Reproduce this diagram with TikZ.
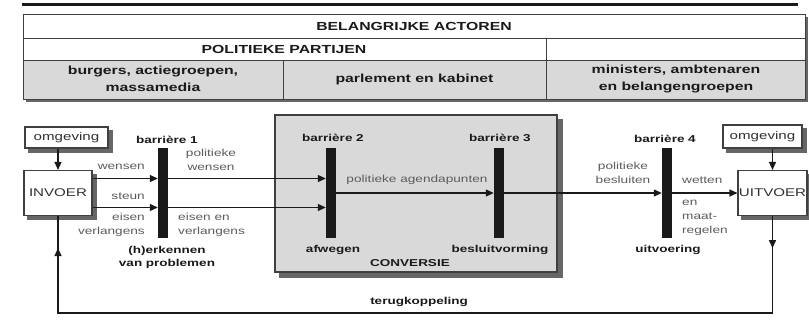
\documentclass[tikz,border=0pt]{standalone}
\usepackage{fontspec}
\setmainfont[FakeStretch=1.35]{Liberation Sans}
\usetikzlibrary{arrows.meta,backgrounds,decorations.markings}
\definecolor{lab}{HTML}{5C5C5C}
\definecolor{ink}{HTML}{1A1A1A}
\definecolor{fillg}{HTML}{D9D9D9}
\definecolor{edge}{HTML}{404040}
\definecolor{shd}{HTML}{666666}
\begin{document}
\begin{tikzpicture}[x=1pt,y=-1pt,
  tab/.style={font=\fontsize{11.7}{17}\selectfont\bfseries, text=ink, align=center, inner sep=0pt},
  boxnode/.style={draw=edge, line width=1.1pt, fill=white, font=\fontsize{11.2}{13}\selectfont, text=ink!90, inner sep=0pt},
  bar/.style={fill=ink, draw=none, minimum width=10pt, minimum height=89pt, inner sep=0pt},
  blab/.style={font=\fontsize{10}{13}\selectfont\bfseries, text=ink, align=center, inner sep=0pt},
  glab/.style={font=\fontsize{10.1}{14}\selectfont, text=lab, inner sep=0pt},
  tip/.style={-{Triangle[length=8pt,width=7pt]}},
  arr/.style={draw=ink, line width=1.3pt, tip},
]
\useasboundingbox (0,0) rectangle (809,334);

% conversie box
\node[draw=edge, line width=1.1pt, fill=fillg, minimum width=282pt, minimum height=157pt, inner sep=0pt] (conv) at (416,193.5) {};

% boxes
\node[boxnode, minimum width=83pt, minimum height=21pt] (omgL) at (66.5,137.5) {omgeving};
\node[boxnode, minimum width=68pt, minimum height=45pt] (inv) at (58,193) {INVOER};
\node[boxnode, minimum width=79pt, minimum height=23pt] (omgR) at (762.5,136.5) {omgeving};
\node[boxnode, minimum width=69pt, minimum height=45pt] (uit) at (772.5,193) {UITVOER};

\begin{scope}[on background layer]
\fill[white] (0,0) rectangle (809,334);
% top rule and table
\draw[ink, line width=3pt] (22,5) -- (798,5);
\fill[shd] (26,17) rectangle (808,102.5);
\filldraw[draw=edge, line width=0.9pt, fill=white] (23,14) rectangle (805,60);
\filldraw[draw=edge, line width=0.9pt, fill=fillg] (23,60) rectangle (805,99);
\draw[edge, line width=0.9pt] (23,38) -- (805,38);
\draw[edge, line width=0.9pt] (546,38) -- (546,99);
\draw[edge, line width=0.9pt] (283,60) -- (283,99);
% shadows
\fill[shd] ([xshift=5pt,yshift=-5pt]conv.south west) rectangle ([xshift=5pt,yshift=-5pt]conv.north east);
\foreach \b in {omgL,inv,omgR,uit}
  \fill[shd] ([xshift=4pt,yshift=-4pt]\b.south west) rectangle ([xshift=4pt,yshift=-4pt]\b.north east);
\end{scope}

\node[tab] (act) at (414,26) {BELANGRIJKE ACTOREN};
\node[tab] (pp) at (284,49) {POLITIEKE PARTIJEN};
\node[tab] (burg) at (153,79) {burgers, actiegroepen,\\massamedia};
\node[tab] (parl) at (414.5,79) {parlement en kabinet};
\node[tab] (mini) at (676,79) {ministers, ambtenaren\\en belangengroepen};

% barriers
\node[bar] (b1) at (163,193) {};
\node[bar] (b2) at (331,193) {};
\node[bar] (b3) at (499,193) {};
\node[bar] (b4) at (667,193) {};

\coordinate (iu) at ([yshift=14.5pt]inv.east);
\coordinate (id) at ([yshift=-14.5pt]inv.east);

% connectors
\draw[arr] (inv.north |- omgL.south) -- (inv.north);
\draw[arr] (uit.north |- omgR.south) -- (uit.north);
\draw[arr] (iu) -- (iu -| b1.west);
\draw[arr] (id) -- (id -| b1.west);
\draw[arr] (iu -| b1.east) -- (iu -| b2.west);
\draw[arr] (id -| b1.east) -- (id -| b2.west);
\draw[arr] (b2.east) -- (b3.west);
\draw[arr] (b3.east) -- (b4.west);
\draw[arr] (b4.east) -- (uit.west);
\draw[draw=ink, line width=1.3pt, postaction={decorate},
  decoration={markings,
    mark=at position 32pt with {\arrow{Triangle[length=8pt,width=7pt]}},
    mark=at position -32pt with {\arrow{Triangle[length=8pt,width=7pt]}}}]
  (uit.south) -- ++(0,97) -| (inv.south);

% bold labels
\node[blab] (bl1) at (167,140) {barrière 1};
\node[blab] (bl2) at (333,138) {barrière 2};
\node[blab] (bl3) at (500,138) {barrière 3};
\node[blab] (bl4) at (665,139) {barrière 4};
\node[blab] (herk) at (167,257) {(h)erkennen\\van problemen};
\node[blab] (afw) at (333,250) {afwegen};
\node[blab] (besl) at (500,250) {besluitvorming};
\node[blab] (uitv) at (668,250) {uitvoering};
\node[blab] (convl) at (410,263) {CONVERSIE};
\node[blab] (terug) at (419,302) {terugkoppeling};

% gray labels
\node[glab, anchor=east] (wens) at (145,167) {wensen};
\node[glab, anchor=east] (steun) at (145,196) {steun};
\node[glab, anchor=east, align=right] (eis) at (145,225) {eisen\\verlangens};
\node[glab, align=center] (polw) at (211,159.5) {politieke\\wensen};
\node[glab, anchor=west, align=left] (eisv) at (178,225) {eisen en\\verlangens};
\node[glab] (agenda) at (417,180) {politieke agendapunten};
\node[glab, align=center] (polb) at (623,173) {politieke\\besluiten};
\node[glab, anchor=west] (wet) at (682,180) {wetten};
\node[glab, anchor=west, align=left] (maat) at (682,218) {en\\maat-\\regelen};
\end{tikzpicture}
\end{document}
